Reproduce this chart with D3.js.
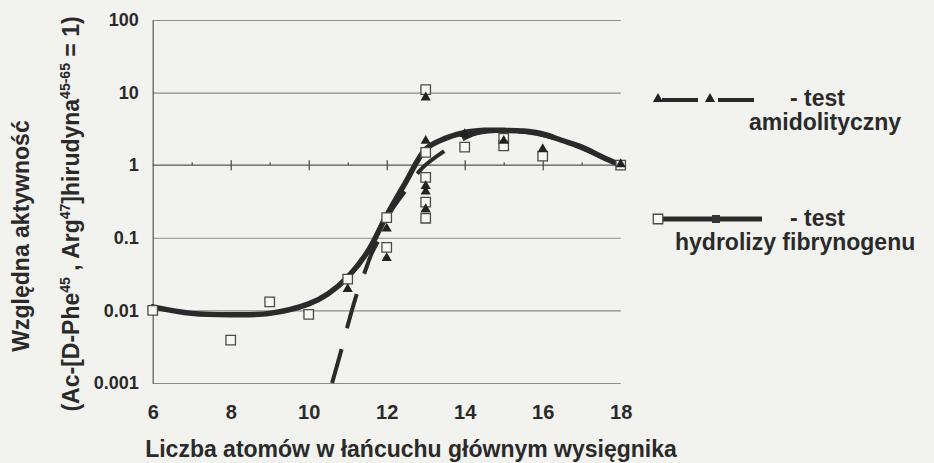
<!DOCTYPE html>
<html>
<head>
<meta charset="utf-8">
<script src="https://cdn.jsdelivr.net/npm/d3@7"></script>
<style>
  html, body { margin: 0; padding: 0; background: #f2f2ef; }
  svg { display: block; }
  text { font-family: "Liberation Sans", Arial, sans-serif; font-weight: bold; fill: #2a2a2a; }
</style>
</head>
<body>
<svg id="chart" width="934" height="463"></svg>
<script>
// ---- data ----
const xTicks = [6, 8, 10, 12, 14, 16, 18];
const xMinorTicks = [7, 9, 11, 13, 15, 17];
const yTicks = [0.001, 0.01, 0.1, 1, 10, 100];
const yTickLabels = ["0.001", "0.01", "0.1", "1", "10", "100"];

// test hydrolizy fibrynogenu (open squares)
const hydroX = [6, 8, 9, 10, 11, 12, 12, 13, 13, 13, 13, 13, 14, 15, 15, 16, 18];
const hydroY = [0.010, 0.0039, 0.0131, 0.0088, 0.027, 0.074, 0.19, 11, 1.5, 0.68, 0.31, 0.186, 1.77, 2.35, 1.85, 1.33, 1.0];

// test amidolityczny (filled triangles)
const amidoX = [11, 12, 12, 13, 13, 13, 13, 13, 14, 15, 16, 18];
const amidoY = [0.019, 0.051, 0.13, 8.3, 2.1, 0.5, 0.42, 0.24, 2.6, 2.1, 1.61, 1.0];

// fitted curve, hydrolysis (solid)
const hydroFitX = [6, 7, 8, 9, 10, 10.5, 11, 11.5, 12, 12.5, 13, 13.5, 14, 14.5, 15, 15.5, 16, 16.5, 17, 17.5, 18];
const hydroFitY = [0.0112, 0.0091, 0.0087, 0.0091, 0.0123, 0.017, 0.0288, 0.063, 0.204, 0.60, 1.66, 2.34, 2.82, 3.02, 3.02, 2.95, 2.69, 2.19, 1.78, 1.32, 1.0];

// fitted curve, amidolytic (dashed)
const amidoFitX = [10.6, 10.86, 11.0, 11.26, 11.44, 11.62, 11.83, 12.08, 12.55, 12.91, 13.58, 14.2, 14.8, 15.5, 16.2, 16.8, 17.4, 18];
const amidoFitY = [0.001, 0.00316, 0.0062, 0.0186, 0.034, 0.062, 0.102, 0.219, 0.50, 0.91, 1.70, 2.63, 2.95, 2.88, 2.45, 1.91, 1.38, 1.0];

// ---- layout ----
const plotLeft = 152.7, plotRight = 620.7, plotTop = 20, plotBottom = 383;
const ink = "#2a2a2a";
const fontFam = '"Liberation Sans", Arial, sans-serif';

const svg = d3.select("#chart");

const x = d3.scaleLinear().domain([6, 18]).range([plotLeft, plotRight]);
const y = d3.scaleLog().domain([0.001, 100]).range([plotBottom, plotTop]);

// horizontal grid lines
svg.append("g")
    .attr("transform", `translate(${plotLeft},0)`)
    .call(d3.axisLeft(y).tickValues(yTicks.filter(v => v !== 1)).tickSize(-(plotRight - plotLeft)).tickFormat(""))
    .call(g => g.select(".domain").remove())
    .call(g => g.selectAll(".tick line").attr("stroke", "#8a8a8a").attr("stroke-width", 1.1));

// y axis with labels
svg.append("g")
    .attr("transform", `translate(${plotLeft},0)`)
    .call(d3.axisLeft(y).tickValues(yTicks).tickSize(0).tickPadding(14)
        .tickFormat((d, i) => yTickLabels[i]))
    .call(g => g.select(".domain").attr("stroke", "#555").attr("stroke-width", 1.2))
    .call(g => g.selectAll(".tick text").attr("font-size", 18).attr("fill", ink)
        .attr("font-family", fontFam).attr("font-weight", "bold"));

// x axis line at y = 1, with major ticks crossing and minor ticks above
const y1 = y(1);
svg.append("line")
    .attr("x1", plotLeft).attr("x2", plotRight).attr("y1", y1).attr("y2", y1)
    .attr("stroke", "#555").attr("stroke-width", 1.2);
svg.append("g")
    .attr("transform", `translate(0,${y1})`)
    .call(d3.axisBottom(x).tickValues(xTicks.slice(1)).tickSize(5).tickFormat(""))
    .call(g => g.select(".domain").remove())
    .call(g => g.selectAll(".tick line").attr("stroke", "#444").attr("stroke-width", 1.2));
svg.append("g")
    .attr("transform", `translate(0,${y1})`)
    .call(d3.axisTop(x).tickValues(xTicks.slice(1)).tickSize(5).tickFormat(""))
    .call(g => g.select(".domain").remove())
    .call(g => g.selectAll(".tick line").attr("stroke", "#444").attr("stroke-width", 1.2));
svg.append("g")
    .attr("transform", `translate(0,${y1})`)
    .call(d3.axisTop(x).tickValues(xMinorTicks).tickSize(3).tickFormat(""))
    .call(g => g.select(".domain").remove())
    .call(g => g.selectAll(".tick line").attr("stroke", "#444").attr("stroke-width", 1.1));

// x tick labels below the plot
svg.append("g")
    .attr("transform", `translate(0,${plotBottom})`)
    .call(d3.axisBottom(x).tickValues(xTicks).tickSize(0).tickPadding(22).tickFormat(d3.format("d")))
    .call(g => g.select(".domain").remove())
    .call(g => g.selectAll(".tick text").attr("font-size", 20).attr("fill", ink)
        .attr("font-family", fontFam).attr("font-weight", "bold"));

// ---- curves ----
const line = d3.line()
    .x(d => x(d[0]))
    .y(d => y(d[1]))
    .curve(d3.curveCatmullRom.alpha(0.5));

svg.append("path")
    .datum(hydroFitX.map((v, i) => [v, hydroFitY[i]]))
    .attr("d", line)
    .attr("fill", "none")
    .attr("stroke", ink)
    .attr("stroke-width", 5.5)
    .attr("stroke-linecap", "round");

svg.append("path")
    .datum(amidoFitX.map((v, i) => [v, amidoFitY[i]]))
    .attr("d", line)
    .attr("fill", "none")
    .attr("stroke", ink)
    .attr("stroke-width", 4)
    .attr("stroke-dasharray", "35,22");

// ---- markers ----
const square = d3.symbol().type(d3.symbolSquare).size(90);
const triangle = d3.symbol().type(d3.symbolTriangle).size(45);

svg.append("g").selectAll("path")
    .data(hydroX.map((v, i) => [v, hydroY[i]]))
    .join("path")
    .attr("d", square)
    .attr("transform", d => `translate(${x(d[0])},${y(d[1])})`)
    .attr("fill", "#f7f7f4")
    .attr("stroke", "#4a4a4a")
    .attr("stroke-width", 1.3);

svg.append("g").selectAll("path")
    .data(amidoX.map((v, i) => [v, amidoY[i]]))
    .join("path")
    .attr("d", triangle)
    .attr("transform", d => `translate(${x(d[0])},${y(d[1]) - 1})`)
    .attr("fill", "#222");

// ---- legend ----
const leg1 = 100, leg2 = 219;
svg.append("path")
    .attr("d", `M662,${leg1}H758`)
    .attr("stroke", ink).attr("stroke-width", 4).attr("stroke-dasharray", "36,20");
svg.append("g").selectAll("path")
    .data([658, 710])
    .join("path")
    .attr("d", triangle)
    .attr("transform", d => `translate(${d},${leg1 - 1})`)
    .attr("fill", "#222");
svg.append("text").attr("x", 790).attr("y", leg1 + 6).attr("font-size", 23).text("- test");
svg.append("text").attr("x", 749).attr("y", leg1 + 30).attr("font-size", 23).text("amidolityczny");

svg.append("line")
    .attr("x1", 663).attr("x2", 762).attr("y1", leg2).attr("y2", leg2)
    .attr("stroke", ink).attr("stroke-width", 5);
svg.append("rect")
    .attr("x", 712).attr("y", leg2 - 4).attr("width", 8).attr("height", 8).attr("fill", "#333");
svg.append("path")
    .attr("d", square)
    .attr("transform", `translate(658,${leg2})`)
    .attr("fill", "#f7f7f4").attr("stroke", "#4a4a4a").attr("stroke-width", 1.3);
svg.append("text").attr("x", 790).attr("y", leg2 + 7).attr("font-size", 23).text("- test");
svg.append("text").attr("x", 675).attr("y", leg2 + 31).attr("font-size", 23).text("hydrolizy fibrynogenu");

// ---- axis titles ----
svg.append("text")
    .attr("x", 411).attr("y", 457)
    .attr("text-anchor", "middle")
    .attr("font-size", 23)
    .text("Liczba atomów w łańcuchu głównym wysięgnika");

svg.append("text")
    .attr("transform", "translate(29,236) rotate(-90)")
    .attr("text-anchor", "middle")
    .attr("font-size", 23)
    .text("Względna aktywność");

const yTitle2 = svg.append("text")
    .attr("transform", "translate(79,214) rotate(-90)")
    .attr("text-anchor", "middle")
    .attr("font-size", 23);
yTitle2.append("tspan").text("(Ac-[D-Phe");
yTitle2.append("tspan").attr("dy", -9).attr("font-size", 14).text("45");
yTitle2.append("tspan").attr("dy", 9).text(" , Arg");
yTitle2.append("tspan").attr("dy", -9).attr("font-size", 14).text("47");
yTitle2.append("tspan").attr("dy", 9).text("]hirudyna");
yTitle2.append("tspan").attr("dy", -9).attr("font-size", 14).text("45-65");
yTitle2.append("tspan").attr("dy", 9).text(" = 1)");
</script>
</body>
</html>
